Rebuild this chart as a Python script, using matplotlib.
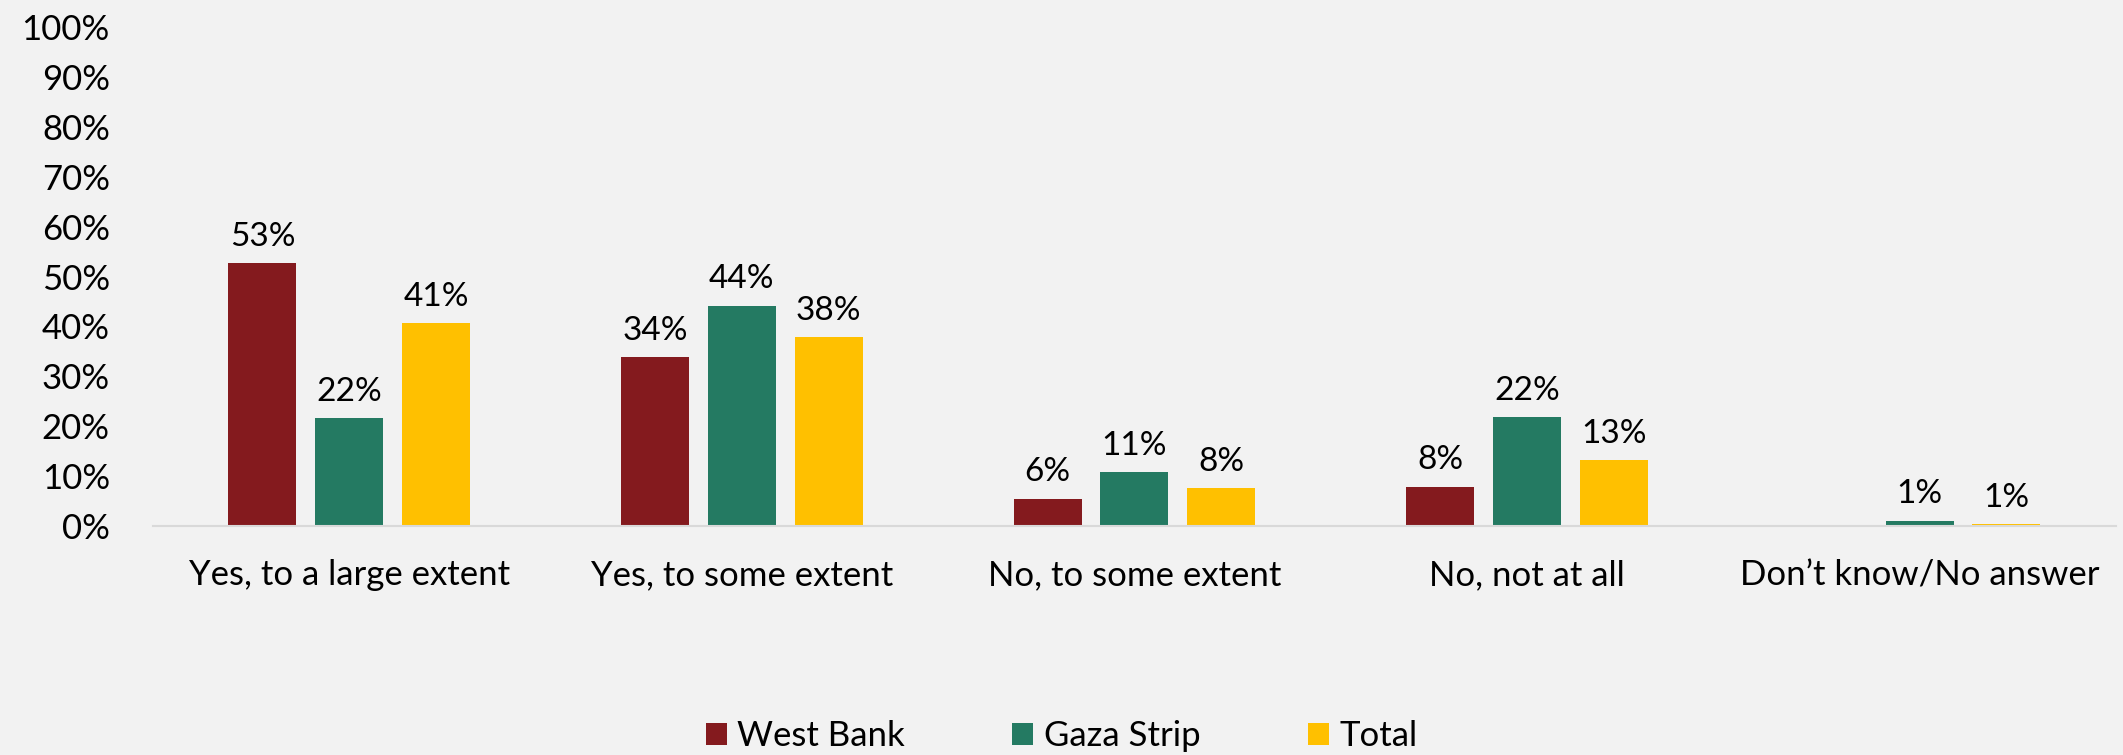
from matplotlib import pyplot as plt
import numpy as np

plt.rcParams['font.family'] = ['Lato', 'DejaVu Sans']

categories = ['Yes, to a large extent', 'Yes, to some extent', 'No, to some extent',
              'No, not at all', 'Don\u2019t know/No answer']
series = ['West Bank', 'Gaza Strip', 'Total']
west_bank = [52.8, 33.9, 5.5, 7.9, 0]
gaza_strip = [21.7, 44.2, 10.8, 21.8, 1.1]
total = [40.7, 37.9, 7.6, 13.3, 0.4]
west_bank_labels = ['53%', '34%', '6%', '8%', '']
gaza_strip_labels = ['22%', '44%', '11%', '22%', '1%']
total_labels = ['41%', '38%', '8%', '13%', '1%']
yticks = list(range(0, 101, 10))

colors = ['#841a1e', '#247a62', '#ffc000']
bg = '#f2f2f2'

fig = plt.figure(figsize=(21.23, 7.55), dpi=100, facecolor=bg)
ax = fig.add_axes([0.072, 0.3033, 0.9247, 0.6607], facecolor=bg)

x = np.arange(len(categories))
width = 0.173
step = 0.221
all_vals = [west_bank, gaza_strip, total]
all_labels = [west_bank_labels, gaza_strip_labels, total_labels]

for i, (name, vals, labs) in enumerate(zip(series, all_vals, all_labels)):
    pos = x + (i - 1) * step
    bars = ax.bar(pos, vals, width, color=colors[i], label=name)
    for b, lab in zip(bars, labs):
        if lab:
            ax.annotate(lab, (b.get_x() + b.get_width() / 2, b.get_height()),
                        xytext=(0, 8), textcoords='offset points',
                        ha='center', va='bottom', fontsize=24)

ax.set_xlim(-0.5, len(categories) - 0.5)
ax.set_ylim(0, 100)
ax.set_yticks(yticks)
ax.set_yticklabels([f'{t}%' for t in yticks], fontsize=25)
ax.set_xticks(x)
ax.set_xticklabels(categories, fontsize=25)
ax.tick_params(axis='y', length=0, pad=31)
ax.tick_params(axis='x', length=0, pad=24)
for s in ['top', 'right', 'left']:
    ax.spines[s].set_visible(False)
ax.spines['bottom'].set_color('#d9d9d9')
ax.spines['bottom'].set_linewidth(1.5)

fig.legend(loc='center', bbox_to_anchor=(0.5, 0.025), ncol=3, frameon=False,
           fontsize=25, handlelength=0.6, handleheight=0.6, handletextpad=0.3,
           columnspacing=3.1)

plt.savefig('out.png', dpi=100, facecolor=bg)
